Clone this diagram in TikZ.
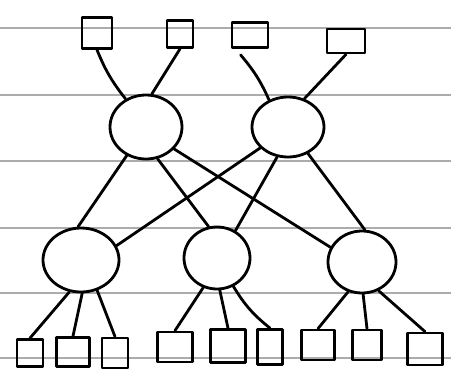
\documentclass[tikz,border=0pt]{standalone}
\usetikzlibrary{shapes.geometric}
\begin{document}
\begin{tikzpicture}[x=1pt,y=-1pt,
  ink/.style={line width=2.8pt,line cap=round,line join=round,black},
  rule/.style={line width=1.1pt,gray!65},
  leafbox/.style={draw,ink,rectangle,inner sep=0pt},
  hub/.style={draw,ink,ellipse,inner sep=0pt},
  wire/.style={ink}]
\useasboundingbox (0,0) rectangle (451,381);
\fill[white] (0,0) rectangle (451,381);
% ruled paper lines
\foreach \yy in {28,95,161,228,293,358}{
  \draw[rule] (0,\yy) -- (451,\yy);
}
% top boxes
\node[leafbox,minimum width=30pt,minimum height=31pt] (t1) at (97,33) {};
\node[leafbox,minimum width=26pt,minimum height=27pt] (t2) at (180,34) {};
\node[leafbox,minimum width=36pt,minimum height=25pt] (t3) at (250,35) {};
\node[leafbox,minimum width=38pt,minimum height=24pt] (t4) at (346,41) {};
% top circles
\node[hub,minimum width=72pt,minimum height=64pt] (A) at (146,127) {};
\node[hub,minimum width=72pt,minimum height=60pt] (B) at (288,127) {};
% bottom circles
\node[hub,minimum width=76pt,minimum height=64pt] (C) at (81,260) {};
\node[hub,minimum width=66pt,minimum height=62pt] (D) at (217,258) {};
\node[hub,minimum width=68pt,minimum height=62pt] (E) at (362,262) {};
% bottom boxes
\node[leafbox,minimum width=26pt,minimum height=27pt] (a) at (30,353) {};
\node[leafbox,minimum width=33pt,minimum height=29pt] (b) at (73,352) {};
\node[leafbox,minimum width=26pt,minimum height=30pt] (c) at (115,353) {};
\node[leafbox,minimum width=35pt,minimum height=30pt] (d) at (175,347) {};
\node[leafbox,minimum width=35pt,minimum height=33pt] (e) at (228,346) {};
\node[leafbox,minimum width=25pt,minimum height=35pt] (f) at (270,347) {};
\node[leafbox,minimum width=33pt,minimum height=30pt] (g) at (318,345) {};
\node[leafbox,minimum width=29pt,minimum height=30pt] (h) at (367,345) {};
\node[leafbox,minimum width=35pt,minimum height=32pt] (i) at (425,349) {};
% top boxes to top circles
\draw[wire] (t1.south) to[bend right=8] (A.126);
\draw[wire] (t2.south) -- (A.80);
\draw[wire] (t3.south west) ++(10,6) to[bend left=8] (B.125);
\draw[wire] (t4.south) -- (B.60);
% cross connections
\draw[wire] (A.236) -- (C.95);
\draw[wire] (A.290) -- (D.105);
\draw[wire] (A.322) -- (E.155);
\draw[wire] (B.217) -- (C.22);
\draw[wire] (B.250) -- (D.56);
\draw[wire] (B.307) -- (E.85);
% bottom circles to bottom boxes
\draw[wire] (C.250) -- (a.north);
\draw[wire] (C.272) -- (b.north);
\draw[wire] (C.298) -- (c.north);
\draw[wire] (D.245) -- (d.north);
\draw[wire] (D.275) -- (e.north);
\draw[wire] (D.300) to[bend right=10] (f.north);
\draw[wire] (E.245) -- (g.north);
\draw[wire] (E.272) -- (h.north);
\draw[wire] (E.300) -- (i.north);
\end{tikzpicture}
\end{document}
